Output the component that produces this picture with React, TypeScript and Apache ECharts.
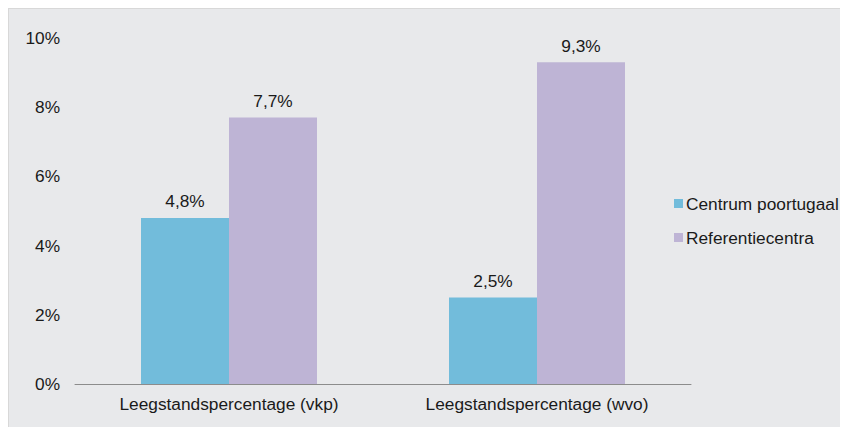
import React, { useEffect, useRef } from "react";
import * as echarts from "echarts";

const categories = ["Leegstandspercentage (vkp)", "Leegstandspercentage (wvo)"];
const seriesNames = ["Centrum poortugaal", "Referentiecentra"];
const centrumValues = [4.8, 2.5];
const referentieValues = [7.7, 9.3];
const colors = ["#72BCDB", "#BEB4D5"];

const fmt = (v: number) => String(v).replace(".", ",") + "%";

export default function App() {
  const ref = useRef<HTMLDivElement>(null);
  useEffect(() => {
    if (!ref.current) return;
    const chart = echarts.init(ref.current, undefined, { renderer: "svg" });
    const font = "Liberation Sans, Arial, sans-serif";
    const fs = 17.3;
    chart.setOption({
      animation: false,
      textStyle: { fontFamily: font },
      grid: { left: 66, right: 157, top: 29, bottom: 43, containLabel: false },
      legend: {
        orient: "vertical",
        left: 665,
        top: 186,
        padding: 0,
        itemWidth: 9,
        itemHeight: 9,
        itemGap: 17,
        icon: "rect",
        textStyle: { fontSize: fs, color: "#1a1a1a", fontFamily: font, padding: [0, 0, 0, -2] },
        data: seriesNames,
      },
      xAxis: {
        type: "category",
        data: categories,
        axisLine: { show: true, lineStyle: { color: "#8c8c8c", width: 1 } },
        axisTick: { show: false },
        axisLabel: { fontSize: fs, color: "#1a1a1a", margin: 11, fontFamily: font },
      },
      yAxis: {
        type: "value",
        min: 0,
        max: 10,
        interval: 2,
        axisLine: { show: false },
        axisTick: { show: false },
        splitLine: { show: false },
        axisLabel: { fontSize: fs, color: "#1a1a1a", margin: 15, formatter: (v: number) => v + "%", fontFamily: font },
      },
      series: [
        {
          name: seriesNames[0],
          type: "bar",
          data: centrumValues,
          itemStyle: { color: colors[0] },
          barWidth: 88,
          barGap: "0%",
          label: { show: true, position: "top", distance: 8, fontSize: fs, color: "#1a1a1a", fontFamily: font, formatter: (p: any) => fmt(p.value) },
        },
        {
          name: seriesNames[1],
          type: "bar",
          data: referentieValues,
          itemStyle: { color: colors[1] },
          barWidth: 88,
          barGap: "0%",
          label: { show: true, position: "top", distance: 8, fontSize: fs, color: "#1a1a1a", fontFamily: font, formatter: (p: any) => fmt(p.value) },
        },
      ],
    });
    return () => chart.dispose();
  }, []);
  return (
    <div
      ref={ref}
      style={{
        width: 840,
        height: 419,
        background: "#E8E9EB",
        borderTop: "1px solid #d8d8d8",
        borderLeft: "1px solid #d8d8d8",
        boxSizing: "border-box",
      }}
    />
  );
}
